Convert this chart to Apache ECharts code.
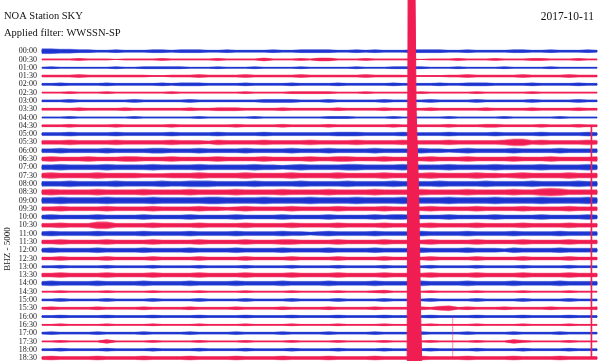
<!DOCTYPE html>
<html>
<head>
<meta charset="utf-8">
<script src="https://cdn.jsdelivr.net/npm/echarts@6/dist/echarts.min.js"></script>
<style>html,body{margin:0;padding:0;background:#fff}#c{width:600px;height:362px}</style>
</head>
<body>
<div id="c"></div>
<script>
// Row labels (30-minute helicorder lines)
const timeLabels = ["00:00","00:30","01:00","01:30","02:00","02:30","03:00","03:30","04:00","04:30",
  "05:00","05:30","06:00","06:30","07:00","07:30","08:00","08:30","09:00","09:30",
  "10:00","10:30","11:00","11:30","12:00","12:30","13:00","13:30","14:00","14:30",
  "15:00","15:30","16:00","16:30","17:00","17:30","18:00","18:30"];
// Estimated trace half-amplitude envelope per row, one digit per half minute (0-9, ~0.5px each)
const rowAmps = [
"5544332232223323332232222322333322323222333322322223322322232",
"1111211101111211111211113111213311121111101112111211122111211",
"1211111121122222111211121111211111211122221112111121111211111",
"2222322222221122232222322222322222232222111122322222322223222",
"2232222322222323332222322223222232222232222322333222232222322",
"1112111211111121111111211112222211121111121111121111121111111",
"2223222222322222322222223333222322222322223222232222232222322",
"2222322223222222322333222232222232222322223222223222232222322",
"1112111111211111121111121111111222111121111121111121111121111",
"2223222232222232222223222232222322222232222232223322223222322",
"3334333343333343333433334333333344433334333343333433334333343",
"4445444454444454443544445444454444544445444454444457745444454",
"4454444544445544454444544445444544445444454434544445444454444",
"4544454445544454444544445444454455444544445444544445444544445",
"5565555655556555565555565545655556655556555565555655556555565",
"5655556555544455565555655556555565555655556555565545655556555",
"5556555565555655666555565555655556555565555655556555565555655",
"5655556555565555655556555565555655556555565555655556557875555",
"6676666766667666667766667666676666766667666676666766667666676",
"4454444544445444454434544445444454444544445444454444544445444",
"4544445444454444544445444454444544445455444454444544445444454",
"4454447744445444454444544445444454444544445444454444544445444",
"4544445444454444544445444454434544445444454444544445444454444",
"4454444544445444454444544455444454444544445444454444544445444",
"4544445444454444544445444454444544445444454444544435444454444",
"3343333433334333343333433334333343333433334333343333433334333",
"2232222322223222232222322223222232222322223222232222322223222",
"4454444544445444454444544445444454444544445444454444544445444",
"4544445444454444544445444454444544445444454444544445444454444",
"1121111211112111121111211112111121112311112111121111211112111",
"2232222322223222232222322223222232222322223222232222322223222",
"2322223222232222322223222232222322223222232452322232222322223",
"2232222322223222232222322223222232222322223222232222322223222",
"1121111211112111121111211112111121111211112111121111211112111",
"2322223222232222322223222232222322223222232222322223222232222",
"1121111411112111121111211112111121111211112111121114211112111",
"2232222322223222232222322223222232222322223222232222322223222",
"3433334333343333433334333343333433334333343333433334333343333"
];
// Earthquake on the last (18:30) line: minutes and upward excursion in rows
const quakeT = [19.74, 19.79, 20.16, 20.22, 20.36, 20.46, 20.52];
const quakeAmp = [0, 45, 45, 30, 20, 6, 0];
// Thin spikes on the last line
const spikeT = [22.2, 29.7];
const spikeAmp = [5, 28];

const SPAN = 30;          // minutes per line
const AMP_UNIT = 0.06;    // rows per digit
const BLUE = '#1c34cf', RED = '#ef1d52';
const LAST = timeLabels.length - 1;

const chart = echarts.init(document.getElementById('c'), null, {renderer: 'canvas'});
const lblFont = 'Liberation Serif';

function band(api, r, amps, scale) {
  const n = amps.length, top = [], bot = [];
  for (let k = 0; k < n; k++) {
    const t = k * SPAN / (n - 1);
    const a = amps[k] * AMP_UNIT * scale;
    top.push(api.coord([t, r - a]));
    bot.push(api.coord([t, r + a]));
  }
  return top.concat(bot.reverse());
}

chart.setOption({
  animation: false,
  backgroundColor: '#fff',
  grid: {left: 42, right: 3, top: 1.4, bottom: 1.7},
  xAxis: {type: 'value', min: 0, max: SPAN, show: false},
  yAxis: {
    type: 'value', inverse: true, min: -6, max: 37, interval: 1,
    axisLine: {show: false}, axisTick: {show: false}, splitLine: {show: false},
    axisLabel: {
      margin: 5, fontFamily: lblFont, fontSize: 8, color: '#222',
      formatter: v => (v >= 0 && v <= LAST && Number.isInteger(v)) ? timeLabels[v] : ''
    }
  },
  graphic: [
    {type: 'text', left: 4, top: 11, style: {text: 'NOA Station SKY', font: '10.5px "Liberation Serif"', fill: '#111'}},
    {type: 'text', left: 4, top: 28, style: {text: 'Applied filter: WWSSN-SP', font: '10.5px "Liberation Serif"', fill: '#111'}},
    {type: 'text', right: 6, top: 11, style: {text: '2017-10-11', font: '11.5px "Liberation Serif"', fill: '#111'}},
    {type: 'text', x: 8, y: 249, rotation: Math.PI / 2,
      style: {text: 'BHZ - 5000', x: 0, y: 0, align: 'center', verticalAlign: 'middle', font: '9px "Liberation Serif"', fill: '#222'}}
  ],
  series: [
    {
      type: 'custom',
      clip: false,
      data: rowAmps.map((s, i) => [i]),
      renderItem: (params, api) => {
        const r = api.value(0);
        const amps = rowAmps[r].split('').map(Number);
        const color = r % 2 === 0 ? BLUE : RED;
        return {type: 'group', children: [
          {type: 'polygon', shape: {points: band(api, r, amps, 1)},
            style: {fill: color, stroke: color, lineWidth: 0.5, opacity: 0.7}},
          {type: 'polygon', shape: {points: band(api, r, amps, 0.6)},
            style: {fill: color, stroke: color, lineWidth: 0.9}}
        ]};
      }
    },
    {
      type: 'custom',
      clip: false,
      data: [[LAST]],
      renderItem: (params, api) => {
        const r = api.value(0);
        const pts = [];
        for (let k = 0; k < quakeT.length; k++) pts.push(api.coord([quakeT[k], r - quakeAmp[k]]));
        for (let k = quakeT.length - 1; k >= 0; k--) pts.push(api.coord([quakeT[k], r + 0.3]));
        const children = [{type: 'polygon', shape: {points: pts}, style: {fill: RED, stroke: RED, lineWidth: 1}}];
        for (let k = 0; k < spikeT.length; k++) {
          const p1 = api.coord([spikeT[k], r]);
          const p2 = api.coord([spikeT[k], r - spikeAmp[k]]);
          children.push({type: 'line', shape: {x1: p1[0], y1: p1[1], x2: p2[0], y2: p2[1]},
            style: {stroke: RED, lineWidth: k === 0 ? 0.8 : 1.6, opacity: k === 0 ? 0.6 : 1}});
        }
        return {type: 'group', children};
      }
    }
  ]
});
</script>
</body>
</html>
